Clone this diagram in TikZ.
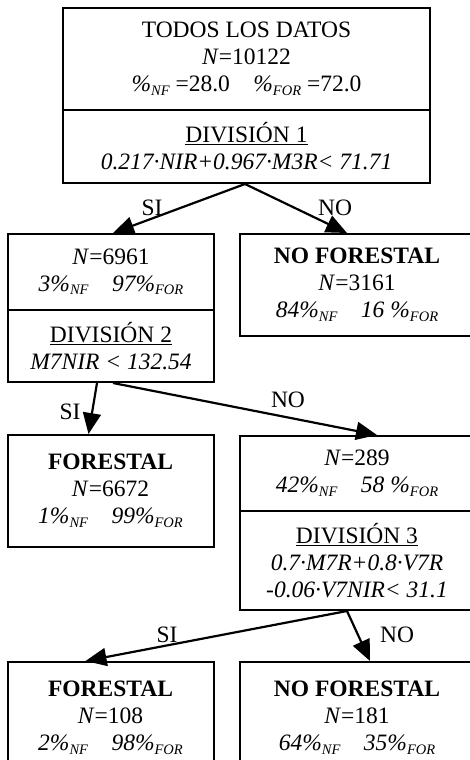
\documentclass[tikz,border=0pt]{standalone}
\usepackage{fontspec}
\setmainfont{Liberation Serif}
\usetikzlibrary{arrows.meta}
\newcommand{\subtxt}[1]{\raisebox{-3.5pt}{\fontsize{14.5}{14.5}\selectfont\itshape #1}}
\newcommand{\subnf}{\subtxt{NF}}
\newcommand{\subfor}{\subtxt{FOR}}
\begin{document}
\begin{tikzpicture}[
  x=1pt,y=1pt,
  box/.style={draw,line width=2pt,inner sep=0pt,align=center,
    font=\fontsize{23.5}{27}\selectfont},
  wide/.style={box,minimum width=367pt},
  half/.style={box,minimum width=206pt},
  halfr/.style={box,minimum width=234pt},
  arr/.style={-{Triangle[length=21pt,width=18pt]},line width=2.2pt},
  lbl/.style={font=\fontsize{23.5}{26}\selectfont}
]
  \useasboundingbox (0,0) rectangle (470,-760);
  \clip (0,0) rectangle (470,-760);
  % Root
  \node[wide,minimum height=102pt] (todos) at (246.5,-59)
    {TODOS LOS DATOS\\\textit{N}=10122\\\textit{\%}\subnf{} =28.0\quad\textit{\%}\subfor{} =72.0};
  \node[wide,minimum height=73pt] (div1) at (246.5,-146.5)
    {\underline{DIVISIÓN 1}\\\textit{0.217·NIR+0.967·M3R< 71.71}};
  % Level 1
  \node[half,minimum height=76pt] (n6961) at (111,-272)
    {\textit{N}=6961\\{\itshape 3\%\subnf\quad 97\%\subfor}};
  \node[half,minimum height=72pt] (div2) at (111,-346)
    {\underline{DIVISIÓN 2}\\\textit{M7NIR < 132.54}};
  \node[halfr,minimum height=102pt] (nof1) at (357,-285)
    {\textbf{NO FORESTAL}\\\textit{N}=3161\\{\itshape 84\%\subnf\quad 16 \%\subfor}};
  % Level 2
  \node[half,minimum height=112pt] (for1) at (110.5,-491)
    {\textbf{FORESTAL}\\\textit{N}=6672\\{\itshape 1\%\subnf\quad 99\%\subfor}};
  \node[halfr,minimum height=75pt] (n289) at (357,-473.5)
    {\textit{N}=289\\{\itshape 42\%\subnf\quad 58 \%\subfor}};
  \node[halfr,minimum height=99pt] (div3) at (357,-560.5)
    {\underline{DIVISIÓN 3}\\\textit{0.7·M7R+0.8·V7R}\\\textit{-0.06·V7NIR< 31.1}};
  % Level 3
  \node[half,minimum height=112pt] (for2) at (110.5,-718)
    {\textbf{FORESTAL}\\\textit{N}=108\\{\itshape 2\%\subnf\quad 98\%\subfor}};
  \node[halfr,minimum height=112pt] (nof2) at (357,-718)
    {\textbf{NO FORESTAL}\\\textit{N}=181\\{\itshape 64\%\subnf\quad 35\%\subfor}};
  % Arrows
  \draw[arr] ([xshift=-1.5pt]div1.south) -- ([xshift=2pt]n6961.north);
  \draw[arr] ([xshift=-1.5pt]div1.south) -- ([xshift=-10pt]nof1.north);
  \draw[arr] ([xshift=-14pt]div2.south) -- ([xshift=-22pt]for1.north);
  \draw[arr] ([xshift=2pt]div2.south) -- ([xshift=20pt]n289.north);
  \draw[arr] ([xshift=-10pt]div3.south) -- ([xshift=-25pt]for2.north);
  \draw[arr] ([xshift=-10pt]div3.south) -- ([xshift=13pt]nof2.north);
  % Labels
  \node[lbl] (si1) at (152,-208) {SI};
  \node[lbl] (no1) at (335,-208) {NO};
  \node[lbl] (si2) at (70,-412) {SI};
  \node[lbl] (no2) at (288,-400) {NO};
  \node[lbl] (si3) at (167,-635) {SI};
  \node[lbl] (no3) at (397,-635) {NO};
\end{tikzpicture}
\end{document}
